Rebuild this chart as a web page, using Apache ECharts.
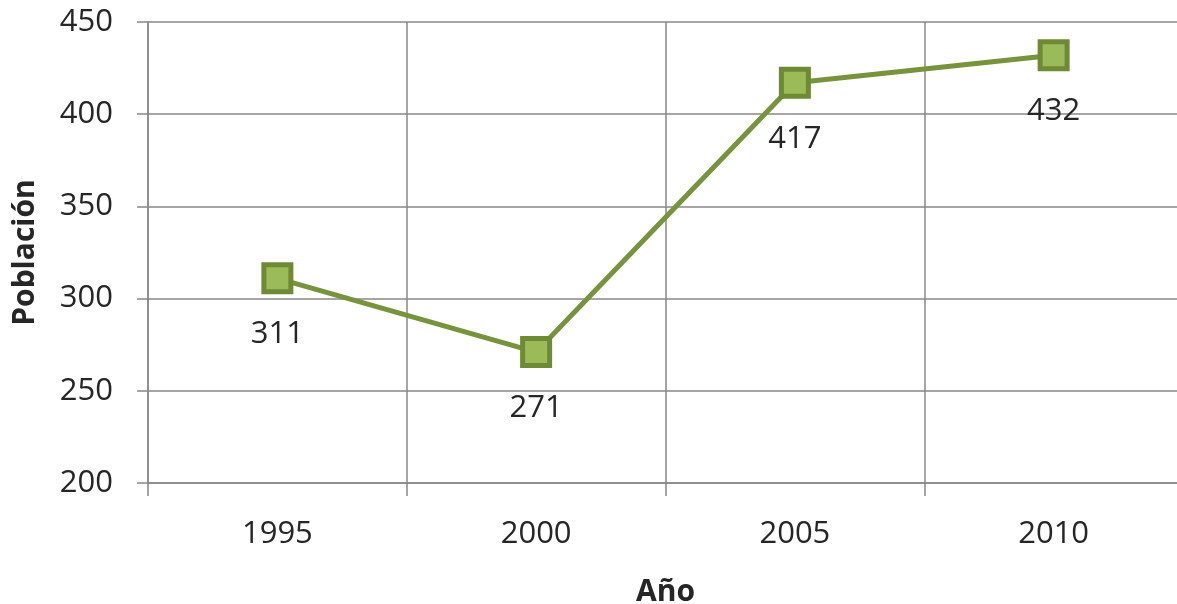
<!DOCTYPE html>
<html>
<head>
<meta charset="utf-8">
<script src="https://cdn.jsdelivr.net/npm/echarts@6/dist/echarts.min.js"></script>
<style>
  html, body { margin: 0; padding: 0; background: #fff; }
  #chart { width: 1177px; height: 604px; }
</style>
</head>
<body>
<div id="chart"></div>
<script>
// Población por año
const years = ['1995', '2000', '2005', '2010'];
const population = [311, 271, 417, 432];
const yTicks = { min: 200, max: 450, step: 50 };

const FONT = '"Open Sans", "Liberation Sans", sans-serif';
const TEXT = '#262626';
const GRID = '#888888';

const chart = echarts.init(document.getElementById('chart'), null, { renderer: 'canvas' });
chart.setOption({
  animation: false,
  backgroundColor: '#ffffff',
  grid: {
    left: 148, right: -6, top: 22, bottom: 121,
    containLabel: false,
    outerBoundsMode: 'none'
  },
  xAxis: {
    type: 'category',
    data: years,
    boundaryGap: true,
    name: 'Año',
    nameLocation: 'middle',
    nameGap: 94,
    nameTextStyle: { fontFamily: FONT, fontSize: 30, fontWeight: 'bold', color: TEXT },
    axisLine: { show: true, lineStyle: { color: GRID, width: 1.5 } },
    axisTick: { show: true, length: 13, lineStyle: { color: GRID, width: 1.5 } },
    axisLabel: { fontFamily: FONT, fontSize: 31, color: TEXT, margin: 35, lineHeight: 32 },
    splitLine: { show: true, lineStyle: { color: GRID, width: 1.5 } }
  },
  yAxis: {
    type: 'value',
    min: yTicks.min,
    max: yTicks.max,
    interval: yTicks.step,
    name: 'Población',
    nameLocation: 'middle',
    nameGap: 108,
    nameTextStyle: { fontFamily: FONT, fontSize: 30, fontWeight: 'bold', color: TEXT },
    axisLine: { show: true, lineStyle: { color: GRID, width: 1.5 } },
    axisTick: { show: true, length: 11, lineStyle: { color: GRID, width: 1.5 } },
    axisLabel: { fontFamily: FONT, fontSize: 31, color: TEXT, margin: 35 },
    splitLine: { show: true, lineStyle: { color: GRID, width: 1.5 } }
  },
  series: [{
    type: 'line',
    data: population,
    symbol: 'rect',
    symbolSize: 27,
    lineStyle: { color: '#77933C', width: 5 },
    itemStyle: { color: '#9BBB59', borderColor: '#6E8A35', borderWidth: 5 },
    label: {
      show: true,
      position: 'bottom',
      distance: 24,
      fontFamily: FONT,
      fontSize: 31,
      lineHeight: 32,
      color: TEXT
    }
  }]
});
</script>
</body>
</html>
